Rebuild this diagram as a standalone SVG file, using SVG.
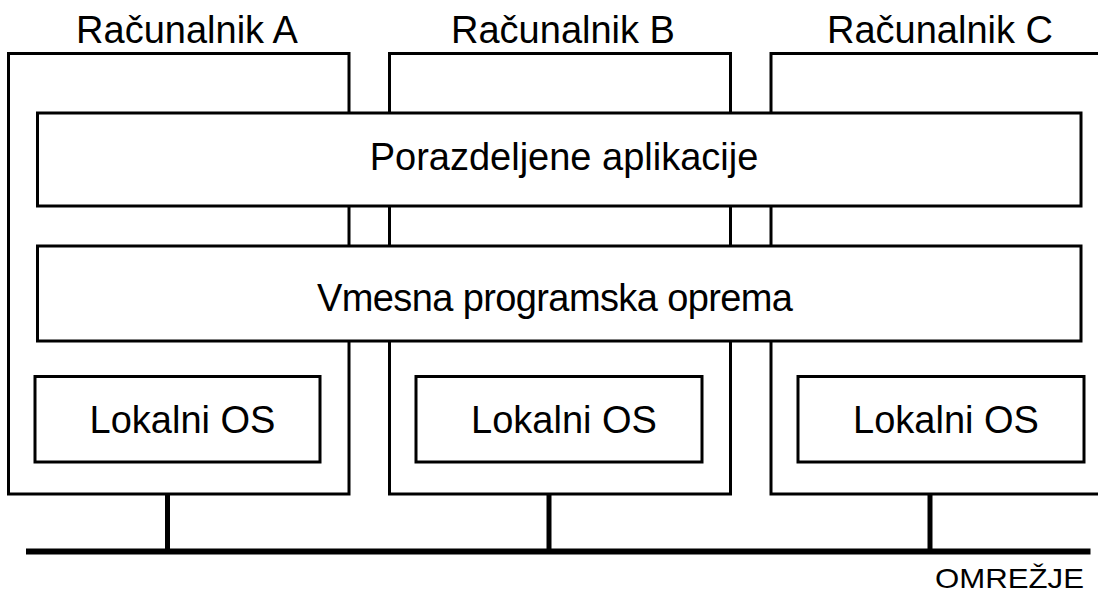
<svg xmlns="http://www.w3.org/2000/svg" width="1098" height="591" viewBox="0 0 1098 591">
  <style>
    .box { fill: #ffffff; stroke: #000000; stroke-width: 3; }
    .label { font-family: "Liberation Sans", Arial, sans-serif; font-size: 38px; fill: #000000; text-anchor: middle; }
    .net { font-family: "Liberation Sans", Arial, sans-serif; font-size: 28px; fill: #000000; }
    .drop { stroke: #000000; stroke-width: 5; }
    .bus { stroke: #000000; stroke-width: 6; }
  </style>
  <rect width="1098" height="591" fill="#ffffff"/>

  <!-- Computers -->
  <g id="racunalnik-a">
    <rect class="box" x="8.5" y="53.5" width="340.5" height="440.5"/>
    <text class="label" x="187" y="43">Računalnik A</text>
  </g>
  <g id="racunalnik-b">
    <rect class="box" x="389.5" y="53.5" width="341" height="440.5"/>
    <text class="label" x="563" y="43">Računalnik B</text>
  </g>
  <g id="racunalnik-c">
    <rect class="box" x="771" y="53.5" width="340" height="440.5"/>
    <text class="label" x="940" y="43">Računalnik C</text>
  </g>

  <!-- Layers spanning all computers -->
  <g id="porazdeljene-aplikacije">
    <rect class="box" x="37.5" y="113" width="1043.5" height="93"/>
    <text class="label" x="564" y="170">Porazdeljene aplikacije</text>
  </g>
  <g id="vmesna-programska-oprema">
    <rect class="box" x="37.5" y="246" width="1043.5" height="95"/>
    <text class="label" x="555" y="311" textLength="476">Vmesna programska oprema</text>
  </g>

  <!-- Local operating systems -->
  <g id="lokalni-os-a">
    <rect class="box" x="35" y="376.5" width="285" height="85.5"/>
    <text class="label" x="182.5" y="433">Lokalni OS</text>
  </g>
  <g id="lokalni-os-b">
    <rect class="box" x="416" y="376.5" width="286" height="85.5"/>
    <text class="label" x="564" y="433">Lokalni OS</text>
  </g>
  <g id="lokalni-os-c">
    <rect class="box" x="798" y="376.5" width="286" height="85.5"/>
    <text class="label" x="946" y="433">Lokalni OS</text>
  </g>

  <!-- Network bus and computer links -->
  <g id="connectors">
    <line class="drop" x1="167.5" y1="494" x2="167.5" y2="551"/>
    <line class="drop" x1="549" y1="494" x2="549" y2="551"/>
    <line class="drop" x1="930" y1="494" x2="930" y2="551"/>
    <line class="bus" x1="26" y1="551.5" x2="1090.5" y2="551.5"/>
  </g>
  <g id="omrezje">
    <text class="net" x="935" y="588" textLength="149" lengthAdjust="spacingAndGlyphs">OMREŽJE</text>
  </g>
</svg>
